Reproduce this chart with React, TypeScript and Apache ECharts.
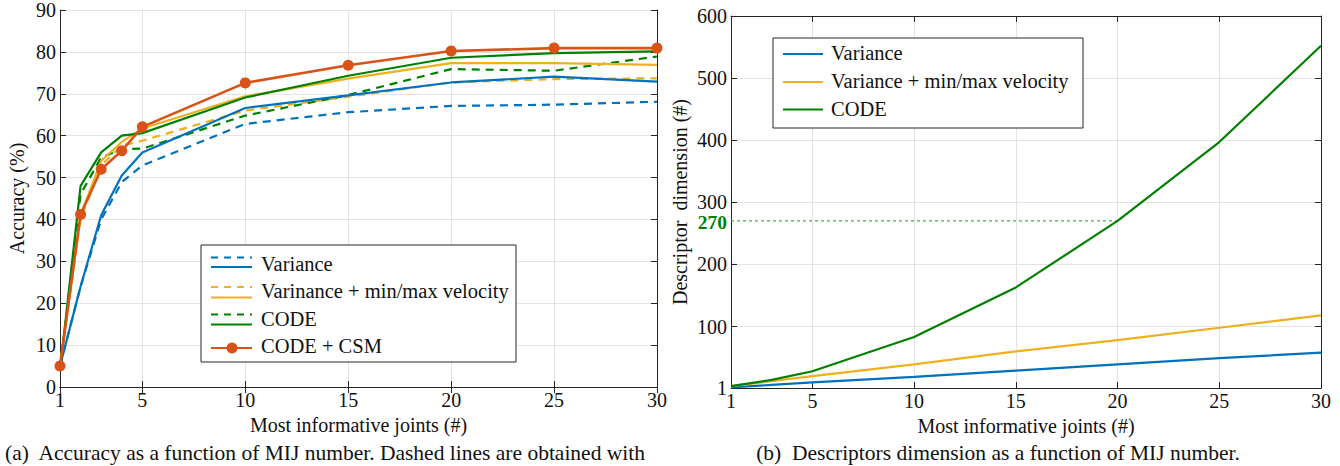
import React, { useEffect, useRef } from "react";
import * as echarts from "echarts";

// ---------- data (a) accuracy ----------
const mij = [1, 2, 3, 4, 5, 10, 15, 20, 25, 30];
const varianceDashed = [5, 24, 40, 48.9, 52.9, 62.8, 65.6, 67.1, 67.4, 68.1];
const varianceSolid = [5, 24, 41, 50.5, 56, 66.6, 69.6, 72.7, 74.1, 72.9];
const varMinMaxDashed = [5, 40, 53, 57.6, 58.8, 66, 69.3, 72.7, 73.5, 73.7];
const varMinMaxSolid = [5, 41, 54, 58.5, 61.7, 69.4, 73.6, 77.3, 77.3, 76.9];
const codeDashed = [4, 46, 54.8, 56.8, 56.9, 64.8, 69.7, 75.9, 75.5, 78.9];
const codeSolid = [4, 48, 56, 60, 60.6, 69.1, 74.3, 78.6, 79.7, 80.1];
const codeCsm = [5, 41.2, 52, 56.4, 62.1, 72.6, 76.8, 80.2, 80.9, 80.9];

// ---------- data (b) descriptor dimension ----------
const mijDim = [1, 3, 5, 10, 15, 20, 25, 30];
const dimVariance = [2, 6, 10, 19, 29, 39, 49, 58];
const dimVarMinMax = [4, 12, 20, 39, 60, 78, 98, 118];
const dimCode = [4, 14, 28, 83, 163, 270, 397, 552];
const highlightMijRange = [1, 20];
const highlightDim = 270;

// ---------- ticks ----------
const xTicks = [1, 5, 10, 15, 20, 25, 30];
const dimTicks = [1, 100, 200, 300, 400, 500, 600];
const dimLabels = [1, 100, 200, 270, 300, 400, 500, 600];

const C_BLUE = "#0072BD";
const C_YELLOW = "#EDB120";
const C_GREEN = "#008000";
const C_ORANGE = "#D95319";
const FONT = "Liberation Serif";
const AX = "#262626";
const GRID = "#e3e3e3";
const FS = 20;

const pair = (xs: number[], ys: number[]) => xs.map((x, i) => [x, ys[i]]);

function xAxisPair(grid: number) {
  const common = {
    type: "value",
    gridIndex: grid,
    min: 1,
    max: 30,
    axisLine: { show: true, lineStyle: { color: AX, width: 1 } },
    axisTick: { show: true, inside: true, length: 6, customValues: xTicks, lineStyle: { color: AX } },
  };
  return [
    {
      ...common,
      position: "bottom",
      axisLabel: { show: true, customValues: xTicks, margin: 3, fontFamily: FONT, fontSize: FS, color: "#111" },
      splitLine: { show: true, lineStyle: { color: GRID, width: 1 } },
      name: "Most informative joints (#)",
      nameLocation: "middle",
      nameGap: 22,
      nameTextStyle: { fontFamily: FONT, fontSize: FS, color: "#111" },
    },
    {
      ...common,
      position: "top",
      axisLabel: { show: false },
      splitLine: { show: false },
    },
  ];
}

export default function App() {
  const ref = useRef<HTMLDivElement>(null);
  useEffect(() => {
    if (!ref.current) return;
    const chart = echarts.init(ref.current, null, { renderer: "svg" });

    const solid = (name: string, xs: number[], ys: number[], color: string, xi: number, yi: number) => ({
      type: "line",
      name,
      data: pair(xs, ys),
      xAxisIndex: xi,
      yAxisIndex: yi,
      symbol: "none",
      lineStyle: { color, width: 2.2 },
      itemStyle: { color },
      z: 3,
    });
    const dashed = (name: string, xs: number[], ys: number[], color: string) => ({
      type: "line",
      name,
      data: pair(xs, ys),
      xAxisIndex: 0,
      yAxisIndex: 0,
      symbol: "none",
      lineStyle: { color, width: 2.2, type: [8, 6] },
      itemStyle: { color },
      z: 2,
    });

    const textStyle = (text: string, extra: any = {}) => ({
      text,
      fontFamily: FONT,
      fontSize: 20.5,
      fill: "#111",
      verticalAlign: "middle",
      ...extra,
    });

    const legendA = (() => {
      const x0 = 211, x1 = 252, tx = 261;
      const rows = [
        { label: "Variance", color: C_BLUE, dy: 257.5, sy: 267, ty: 264 },
        { label: "Varinance + min/max velocity", color: C_YELLOW, dy: 287, sy: 297.5, ty: 291 },
        { label: "CODE", color: C_GREEN, dy: 314.5, sy: 324.5, ty: 319 },
      ];
      const els: any[] = [
        { type: "rect", shape: { x: 201, y: 245, width: 315, height: 117 }, style: { fill: "#fff", stroke: AX, lineWidth: 1 } },
      ];
      rows.forEach((r) => {
        els.push({ type: "line", shape: { x1: x0, y1: r.dy, x2: x1, y2: r.dy }, style: { stroke: r.color, lineWidth: 2.2, lineDash: [7, 6] } });
        els.push({ type: "line", shape: { x1: x0, y1: r.sy, x2: x1, y2: r.sy }, style: { stroke: r.color, lineWidth: 2.2 } });
        els.push({ type: "text", x: tx, y: r.ty, style: textStyle(r.label) });
      });
      els.push({ type: "line", shape: { x1: x0, y1: 348, x2: x1, y2: 348 }, style: { stroke: C_ORANGE, lineWidth: 2.2 } });
      els.push({ type: "circle", shape: { cx: 232, cy: 348, r: 5.5 }, style: { fill: C_ORANGE } });
      els.push({ type: "text", x: tx, y: 346, style: textStyle("CODE + CSM") });
      return els;
    })();

    const legendB = (() => {
      const x0 = 783, x1 = 823, tx = 831;
      const rows = [
        { label: "Variance", color: C_BLUE, y: 54 },
        { label: "Variance + min/max velocity", color: C_YELLOW, y: 82 },
        { label: "CODE", color: C_GREEN, y: 109.5 },
      ];
      const els: any[] = [
        { type: "rect", shape: { x: 773, y: 38, width: 310, height: 90 }, style: { fill: "#fff", stroke: AX, lineWidth: 1 } },
      ];
      rows.forEach((r) => {
        els.push({ type: "line", shape: { x1: x0, y1: r.y, x2: x1, y2: r.y }, style: { stroke: r.color, lineWidth: 2.2 } });
        els.push({ type: "text", x: tx, y: r.y - 1, style: textStyle(r.label) });
      });
      return els;
    })();

    const option: any = {
      animation: false,
      backgroundColor: "#fff",
      textStyle: { fontFamily: FONT },
      grid: [
        { left: 60, top: 9, width: 597, height: 378, containLabel: false },
        { left: 731, top: 16, width: 590, height: 372, containLabel: false },
      ],
      xAxis: [...xAxisPair(0), ...xAxisPair(1)],
      yAxis: [
        {
          type: "value",
          gridIndex: 0,
          position: "left",
          min: 0,
          max: 90,
          interval: 10,
          axisLine: { show: true, lineStyle: { color: AX } },
          axisTick: { show: true, inside: true, length: 6, lineStyle: { color: AX } },
          axisLabel: { margin: 4, fontFamily: FONT, fontSize: FS, color: "#111" },
          splitLine: { show: true, lineStyle: { color: GRID } },
          name: "Accuracy (%)",
          nameLocation: "middle",
          nameGap: 33,
          nameTextStyle: { fontFamily: FONT, fontSize: FS, color: "#111" },
        },
        {
          type: "value",
          gridIndex: 0,
          position: "right",
          min: 0,
          max: 90,
          interval: 10,
          axisLine: { show: true, lineStyle: { color: AX } },
          axisTick: { show: true, inside: true, length: 6, lineStyle: { color: AX } },
          axisLabel: { show: false },
          splitLine: { show: false },
        },
        {
          type: "value",
          gridIndex: 1,
          position: "left",
          min: 1,
          max: 600,
          axisLine: { show: true, lineStyle: { color: AX } },
          axisTick: { show: true, inside: true, length: 6, customValues: dimTicks, lineStyle: { color: AX } },
          axisLabel: {
            margin: 4,
            customValues: dimLabels,
            fontFamily: FONT,
            fontSize: FS,
            color: "#111",
            formatter: (v: number) => (v === highlightDim ? "{g|" + v + "}" : String(v)),
            rich: { g: { fontFamily: FONT, fontSize: 19.5, fontWeight: "bold", color: C_GREEN, padding: [3, 0, 0, 0] } },
          },
          splitLine: { show: true, lineStyle: { color: GRID } },
          name: "Descriptor\u00a0 dimension (#)",
          nameLocation: "middle",
          nameGap: 41,
          nameTextStyle: { fontFamily: FONT, fontSize: FS, color: "#111" },
        },
        {
          type: "value",
          gridIndex: 1,
          position: "right",
          min: 1,
          max: 600,
          axisLine: { show: true, lineStyle: { color: AX } },
          axisTick: { show: true, inside: true, length: 6, customValues: dimTicks, lineStyle: { color: AX } },
          axisLabel: { show: false },
          splitLine: { show: false },
        },
      ],
      series: [
        dashed("Variance (dashed)", mij, varianceDashed, C_BLUE),
        dashed("Varinance + min/max velocity (dashed)", mij, varMinMaxDashed, C_YELLOW),
        dashed("CODE (dashed)", mij, codeDashed, C_GREEN),
        solid("Variance", mij, varianceSolid, C_BLUE, 0, 0),
        solid("Varinance + min/max velocity", mij, varMinMaxSolid, C_YELLOW, 0, 0),
        solid("CODE", mij, codeSolid, C_GREEN, 0, 0),
        {
          type: "line",
          name: "CODE + CSM",
          data: pair(mij, codeCsm),
          xAxisIndex: 0,
          yAxisIndex: 0,
          symbol: "circle",
          symbolSize: 11,
          showSymbol: true,
          lineStyle: { color: C_ORANGE, width: 2.6 },
          itemStyle: { color: C_ORANGE },
          z: 4,
        },
        {
          type: "line",
          name: "270 guide",
          data: highlightMijRange.map((x) => [x, highlightDim]),
          xAxisIndex: 2,
          yAxisIndex: 2,
          symbol: "none",
          silent: true,
          lineStyle: { color: "#46ad46", width: 1.2, type: [3, 3] },
          z: 2,
        },
        solid("Variance ", mijDim, dimVariance, C_BLUE, 2, 2),
        solid("Variance + min/max velocity", mijDim, dimVarMinMax, C_YELLOW, 2, 2),
        solid("CODE ", mijDim, dimCode, C_GREEN, 2, 2),
      ],
      graphic: [
        ...legendA.map((e) => ({ ...e, z: 100 })),
        ...legendB.map((e) => ({ ...e, z: 100 })),
        {
          type: "text",
          x: 5,
          y: 453,
          z: 100,
          style: textStyle("(a)  Accuracy as a function of MIJ number. Dashed lines are obtained with", { fontSize: 21.5 }),
        },
        {
          type: "text",
          x: 998,
          y: 453,
          z: 100,
          style: textStyle("(b)  Descriptors dimension as a function of MIJ number.", { fontSize: 21.5, align: "center" }),
        },
      ],
    };
    chart.setOption(option);
    return () => chart.dispose();
  }, []);
  return <div ref={ref} style={{ position: "absolute", left: 0, top: 0, width: 1340, height: 466 }} />;
}
